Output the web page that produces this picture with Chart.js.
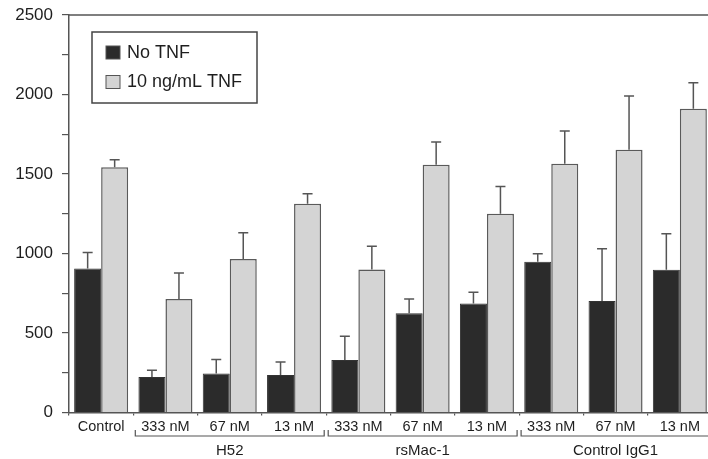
<!DOCTYPE html>
<html>
<head>
<meta charset="utf-8">
<script src="https://cdn.jsdelivr.net/npm/chart.js@4"></script>
<style>
  html, body { margin: 0; padding: 0; background: #fff; overflow: hidden; }
  #wrap { width: 720px; height: 459px; position: relative; }
</style>
</head>
<body>
<div id="wrap"><canvas id="chart"></canvas></div>
<script>
const categories = ["Control", "333 nM", "67 nM", "13 nM", "333 nM", "67 nM", "13 nM", "333 nM", "67 nM", "13 nM"];
const noTnf = [905, 224, 245, 236, 330, 625, 685, 948, 701, 898];
const noTnfErr = [102, 42, 88, 82, 149, 89, 71, 51, 329, 226];
const tnf = [1542, 714, 965, 1313, 900, 1558, 1250, 1564, 1653, 1911];
const tnfErr = [47, 163, 166, 63, 146, 144, 171, 206, 338, 163];
const groupNames = ["H52", "rsMac-1", "Control IgG1"];
const groupStart = [1, 4, 7];
const groupEnd = [3, 6, 9];
const yTicks = [0, 500, 1000, 1500, 2000, 2500];

const FONT = "'Liberation Sans', Arial, sans-serif";
const INK = "#555";
const TEXT = "#1e1e1e";

// error bars, only the upper half
const errorBars = {
  id: "errorBars",
  afterDatasetsDraw(chart) {
    const ctx = chart.ctx;
    const y = chart.scales.y;
    const errs = [noTnfErr, tnfErr];
    ctx.save();
    ctx.strokeStyle = INK;
    ctx.lineWidth = 1.5;
    chart.data.datasets.forEach((ds, d) => {
      chart.getDatasetMeta(d).data.forEach((bar, i) => {
        const top = y.getPixelForValue(ds.data[i] + errs[d][i]);
        ctx.beginPath();
        ctx.moveTo(bar.x, bar.y);
        ctx.lineTo(bar.x, top);
        ctx.moveTo(bar.x - 5, top);
        ctx.lineTo(bar.x + 5, top);
        ctx.stroke();
      });
    });
    ctx.restore();
  }
};

// top frame line, group brackets and the legend box
const extras = {
  id: "extras",
  afterDraw(chart) {
    const ctx = chart.ctx;
    const a = chart.chartArea;
    const x = chart.scales.x;
    const half = (x.getPixelForValue(1) - x.getPixelForValue(0)) / 2;
    ctx.save();
    ctx.strokeStyle = INK;
    ctx.lineWidth = 1.5;
    ctx.beginPath();
    ctx.moveTo(a.left, a.top);
    ctx.lineTo(a.right + 10, a.top);
    ctx.stroke();

    ctx.fillStyle = TEXT;
    ctx.font = "15px " + FONT;
    ctx.textAlign = "center";
    ctx.textBaseline = "middle";
    groupNames.forEach((name, g) => {
      const x0 = x.getPixelForValue(groupStart[g]) - half + 2;
      const x1 = x.getPixelForValue(groupEnd[g]) + half - 2;
      ctx.lineWidth = 1.2;
      ctx.beginPath();
      ctx.moveTo(x0, 430);
      ctx.lineTo(x0, 436);
      ctx.lineTo(x1, 436);
      ctx.lineTo(x1, 430);
      ctx.stroke();
      ctx.fillText(name, (x0 + x1) / 2, 451);
    });

    // legend
    ctx.lineWidth = 1.5;
    ctx.strokeStyle = "#444";
    ctx.strokeRect(92, 32, 165, 71);
    ctx.font = "18px " + FONT;
    ctx.textAlign = "left";
    chart.data.datasets.forEach((ds, d) => {
      const cy = 53 + d * 29.5;
      ctx.fillStyle = ds.backgroundColor;
      ctx.fillRect(106, cy - 7, 14, 13);
      ctx.lineWidth = 1;
      ctx.strokeStyle = "#555";
      ctx.strokeRect(106, cy - 7, 14, 13);
      ctx.fillStyle = TEXT;
      ctx.fillText(ds.label, 127, cy);
    });
    ctx.restore();
  }
};

new Chart(document.getElementById("chart"), {
  type: "bar",
  data: {
    labels: categories,
    datasets: [
      { label: "No TNF", data: noTnf, backgroundColor: "#2b2b2b", borderColor: "#333", borderWidth: 1 },
      { label: "10 ng/mL TNF", data: tnf, backgroundColor: "#d4d4d4", borderColor: "#5a5a5a", borderWidth: 1.5 }
    ]
  },
  options: {
    responsive: true,
    maintainAspectRatio: false,
    animation: false,
    layout: { padding: { left: 0, right: 8, top: 15, bottom: 0 } },
    datasets: { bar: { categoryPercentage: 0.84, barPercentage: 1.0 } },
    plugins: { legend: { display: false }, tooltip: { enabled: false } },
    scales: {
      x: {
        grid: { offset: true, drawOnChartArea: false, tickLength: 3, color: INK, lineWidth: 1.2 },
        border: { color: INK, width: 1.5 },
        ticks: { color: TEXT, font: { family: FONT, size: 14.5 }, padding: 3, maxRotation: 0, autoSkip: false },
        afterFit(s) { s.height = 46.5; }
      },
      y: {
        min: 0,
        max: 2500,
        grid: { drawOnChartArea: false, tickLength: 7, color: INK, lineWidth: 1.2 },
        border: { color: INK, width: 1.5 },
        ticks: {
          stepSize: 250,
          color: TEXT,
          font: { family: FONT, size: 17 },
          padding: 9,
          callback: v => yTicks.includes(v) ? v : ""
        },
        afterFit(s) { s.width = 69; s.paddingTop = 0; s.paddingBottom = 0; }
      }
    }
  },
  plugins: [errorBars, extras]
});
</script>
</body>
</html>
